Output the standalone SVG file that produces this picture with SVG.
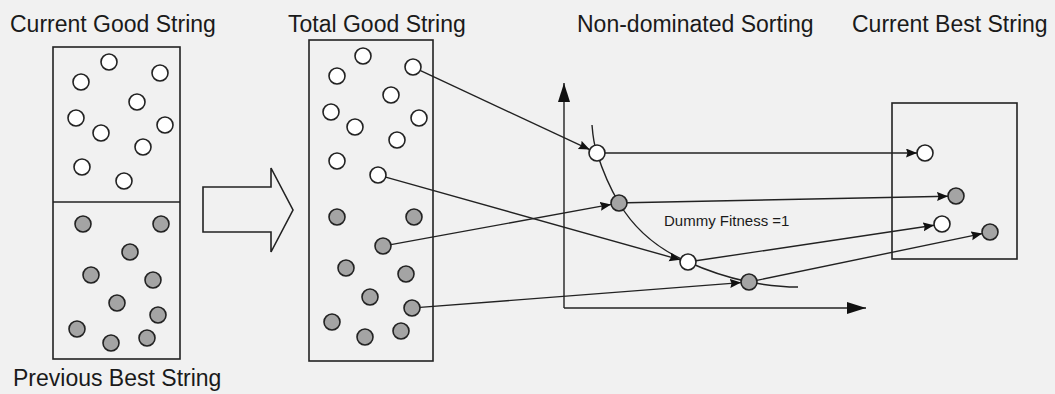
<svg xmlns="http://www.w3.org/2000/svg" width="1055" height="394" viewBox="0 0 1055 394">
<style>
.t{font-family:"Liberation Sans",Arial,sans-serif;font-size:23px;fill:#1a1a1a}
.s{font-family:"Liberation Sans",Arial,sans-serif;font-size:15px;fill:#1a1a1a}
.box{fill:none;stroke:#222;stroke-width:1.6}
.w{fill:#fff;stroke:#222;stroke-width:1.6}
.g{fill:#a4a4a4;stroke:#222;stroke-width:1.6}
.c{fill:none;stroke:#222;stroke-width:1.4}
</style>
<defs>
<marker id="ah" markerUnits="userSpaceOnUse" markerWidth="13" markerHeight="11" refX="11" refY="4.5" orient="auto"><path d="M0,0 L11,4.5 L0,9 L1.5,4.5 z" fill="#111"/></marker>
<marker id="ax" markerUnits="userSpaceOnUse" markerWidth="20" markerHeight="13" refX="19" refY="6" orient="auto"><path d="M0,0 L19,6 L0,12 z" fill="#111"/></marker>
<circle id="cw" r="8" class="w"/>
<circle id="cg" r="8" class="g"/>
</defs>
<rect width="1055" height="394" fill="#f1f1f1"/>

<g id="labels">
<text class="t" x="10" y="32">Current Good String</text>
<text class="t" x="13" y="386">Previous Best String</text>
<text class="t" x="288" y="32">Total Good String</text>
<text class="t" x="577" y="32">Non-dominated Sorting</text>
<text class="t" x="852" y="32">Current Best String</text>
<text class="s" x="664" y="226">Dummy Fitness =1</text>
</g>

<g id="previous-current-box">
<rect class="box" x="53" y="47" width="127" height="312"/>
<line class="box" x1="53" y1="202" x2="180" y2="202"/>
<use href="#cw" x="109" y="62"/><use href="#cw" x="81" y="82"/><use href="#cw" x="160" y="73"/>
<use href="#cw" x="137" y="102"/><use href="#cw" x="76" y="118"/><use href="#cw" x="101" y="133"/>
<use href="#cw" x="165" y="125"/><use href="#cw" x="143" y="147"/><use href="#cw" x="82" y="167"/>
<use href="#cw" x="124" y="181"/>
<use href="#cg" x="83" y="224"/><use href="#cg" x="161" y="224"/><use href="#cg" x="130" y="252"/>
<use href="#cg" x="91" y="275"/><use href="#cg" x="153" y="280"/><use href="#cg" x="117" y="303"/>
<use href="#cg" x="158" y="315"/><use href="#cg" x="77" y="329"/><use href="#cg" x="111" y="343"/>
<use href="#cg" x="147" y="338"/>
</g>

<g id="big-arrow">
<path class="box" d="M203,187 L271,187 L271,168 L293,210 L271,252 L271,232 L203,232 Z"/>
</g>

<g id="connectors">
<path class="c" d="M592,125 C593,138 594,145 597,153 C603,172 610,188 619,203 C635,230 660,250 688,262 C710,272 730,278 749,282 C765,285 785,287 798,287"/>
<line class="c" x1="564" y1="308" x2="564" y2="83" marker-end="url(#ax)"/>
<line class="c" x1="564" y1="308" x2="866" y2="308" marker-end="url(#ax)"/>
<line class="c" x1="420" y1="70.4" x2="589.7" y2="149.6" marker-end="url(#ah)"/>
<line class="c" x1="385.7" y1="177.2" x2="680.3" y2="259.8" marker-end="url(#ah)"/>
<line class="c" x1="390.9" y1="244.6" x2="611.1" y2="204.4" marker-end="url(#ah)"/>
<line class="c" x1="420" y1="307.4" x2="741" y2="282.6" marker-end="url(#ah)"/>
<line class="c" x1="605" y1="153" x2="917" y2="153" marker-end="url(#ah)"/>
<line class="c" x1="627" y1="202.8" x2="948" y2="196.2" marker-end="url(#ah)"/>
<line class="c" x1="695.9" y1="260.8" x2="934.1" y2="225.2" marker-end="url(#ah)"/>
<line class="c" x1="756.8" y1="280.4" x2="982.2" y2="233.6" marker-end="url(#ah)"/>
</g>

<g id="total-good-box">
<rect class="box" x="309" y="40" width="124" height="321"/>
<use href="#cw" x="363" y="56"/><use href="#cw" x="337" y="76"/><use href="#cw" x="413" y="67"/>
<use href="#cw" x="391" y="95"/><use href="#cw" x="331" y="112"/><use href="#cw" x="355" y="127"/>
<use href="#cw" x="419" y="118"/><use href="#cw" x="397" y="140"/><use href="#cw" x="337" y="161"/>
<use href="#cw" x="378" y="175"/>
<use href="#cg" x="337" y="217"/><use href="#cg" x="414" y="217"/><use href="#cg" x="383" y="246"/>
<use href="#cg" x="346" y="268"/><use href="#cg" x="406" y="274"/><use href="#cg" x="370" y="297"/>
<use href="#cg" x="412" y="308"/><use href="#cg" x="332" y="322"/><use href="#cg" x="365" y="337"/>
<use href="#cg" x="401" y="331"/>
</g>

<g id="sorting-front">
<use href="#cw" x="597" y="153"/>
<use href="#cg" x="619" y="203"/>
<use href="#cw" x="688" y="262"/>
<use href="#cg" x="749" y="282"/>
</g>

<g id="current-best-box">
<rect class="box" x="892" y="103" width="125" height="156"/>
<use href="#cw" x="925" y="153"/>
<use href="#cg" x="956" y="196"/>
<use href="#cw" x="942" y="224"/>
<use href="#cg" x="990" y="232"/>
</g>
</svg>
